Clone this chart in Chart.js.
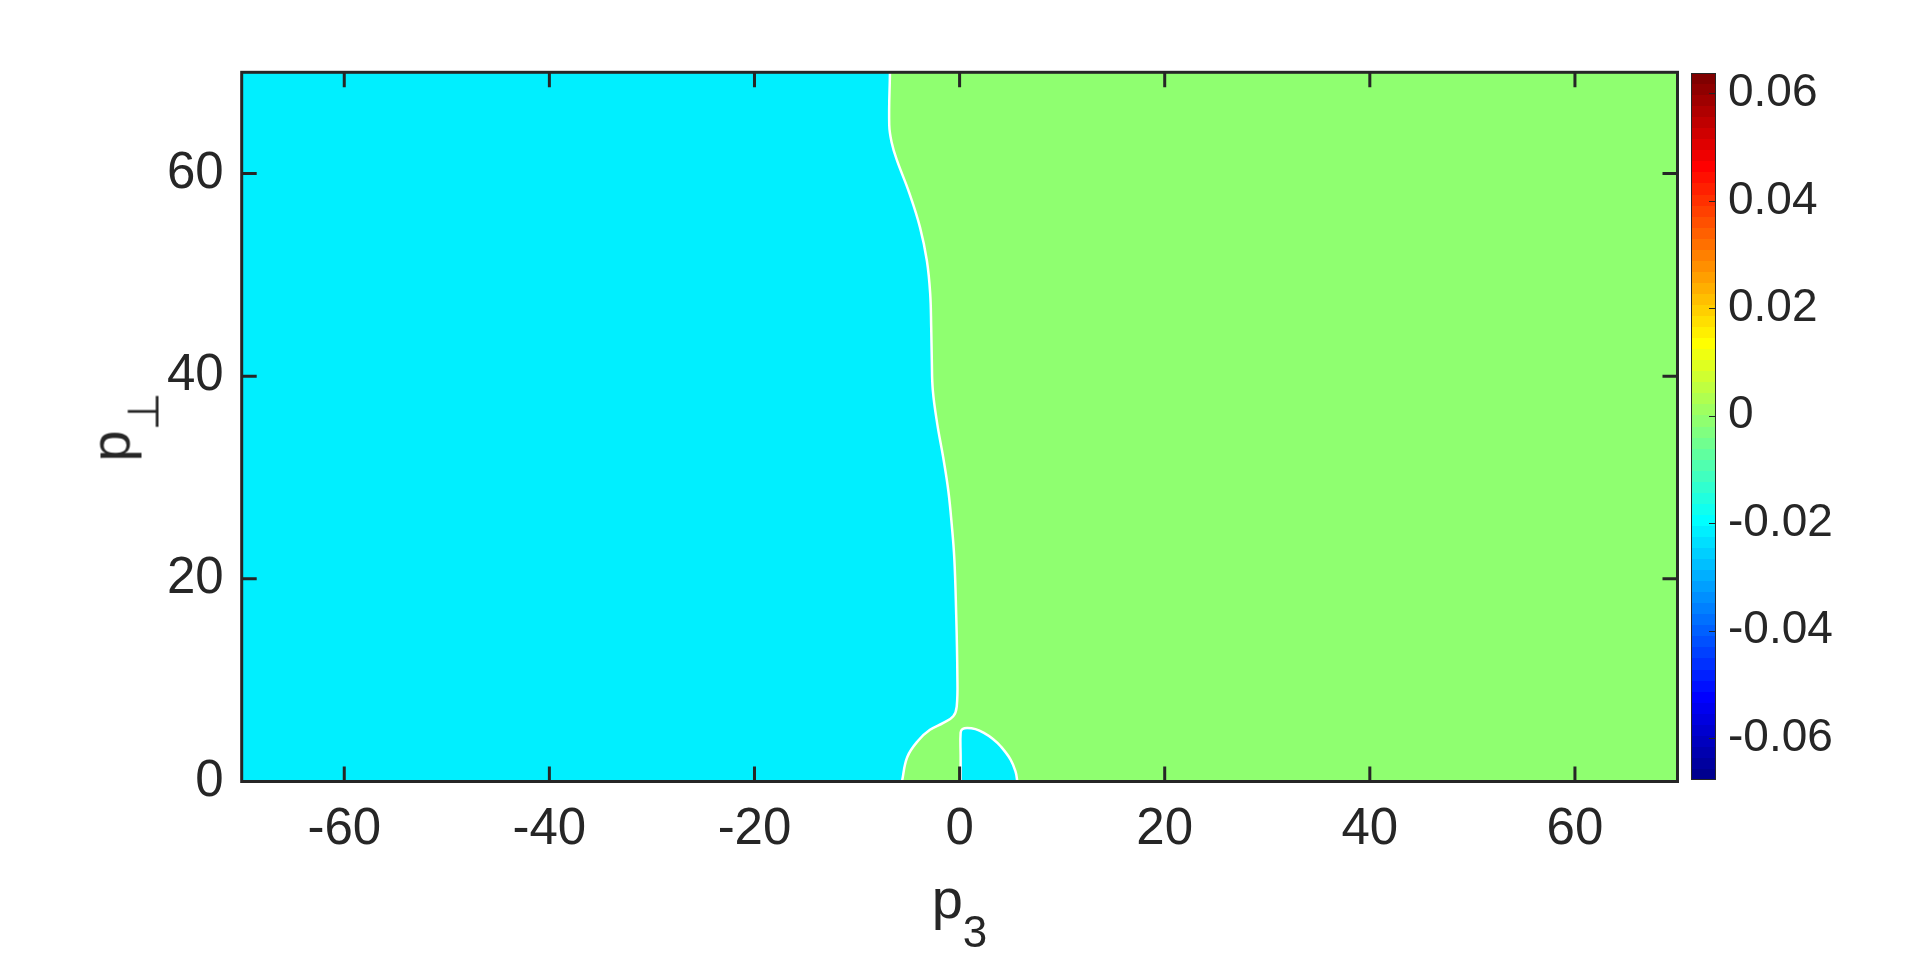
<!DOCTYPE html>
<html>
<head>
<meta charset="utf-8">
<script src="https://cdn.jsdelivr.net/npm/chart.js@4.4.0/dist/chart.umd.min.js"></script>
<style>
  html, body { margin: 0; padding: 0; background: #fff; }
  body { width: 1920px; height: 962px; position: relative; overflow: hidden;
         font-family: "Liberation Sans", Arial, sans-serif; color: #262626; }
  canvas { position: absolute; top: 0; }
  #main { left: 0; }
  #cbar { left: 1600px; }
  .axis-title { position: absolute; font-size: 56px; line-height: 1; white-space: nowrap;
                transform: translate(-50%, -50%); }
  .axis-title sub { font-size: 44px; line-height: 0; vertical-align: -29px; }
  #xtitle { left: 959.5px; top: 901px; }
  #ytitle { left: 112.6px; top: 427px; transform: translate(-50%, -50%) rotate(-90deg); }
</style>
</head>
<body>
<canvas id="main" width="1920" height="962"></canvas>
<canvas id="cbar" width="320" height="962"></canvas>
<div id="xtitle" class="axis-title">p<sub>3</sub></div>
<div id="ytitle" class="axis-title">p<sub>⊥</sub></div>
<script>
// axes
const p3Range = [-70, 70];
const perpRange = [0, 70];
const p3Ticks = [-60, -40, -20, 0, 20, 40, 60];
const perpTicks = [0, 20, 40, 60];

// colour axis
const cbarRange = [-0.0678, 0.0638];
const cbarTicks = [-0.06, -0.04, -0.02, 0, 0.02, 0.04, 0.06];
const cbarTickLabels = ['-0.06', '-0.04', '-0.02', '0', '0.02', '0.04', '0.06'];

// field value on each side of the contour
const leftValue = -0.021;
const rightValue = 0.0;

// main contour, read from top to bottom
const edgeP3 = [-6.79, -6.86, -6.63, -6.14, -4.91, -3.86, -3.19, -2.87, -2.77, -2.71, -2.61, -2.18,
  -1.60, -1.10, -0.77, -0.52, -0.35, -0.22, -0.28, -0.62, -1.59, -2.89, -4.03, -5.10, -5.62];
const edgePerp = [70, 64.8, 63.1, 61.4, 58.1, 54.7, 51.4, 48.2, 44.9, 41.6, 38.6, 35.3,
  32.0, 28.7, 25.4, 22.1, 17.2, 10.6, 7.4, 6.44, 5.79, 5.10, 4.05, 2.42, 0];

// small lobe next to the origin
const lobeP3 = [0.10, 0.10, 0.10, 0.29, 0.75, 1.55, 2.37, 3.25, 4.00, 4.97, 5.45, 5.63];
const lobePerp = [0, 2.5, 4.83, 5.18, 5.29, 5.17, 4.80, 4.20, 3.48, 2.17, 1.0, 0];

// MATLAB jet colormap
function jet(m) {
  const n = Math.ceil(m / 4);
  const u = [];
  for (let i = 1; i <= n; i++) u.push(i / n);
  for (let i = 1; i < n; i++) u.push(1);
  for (let i = n; i >= 1; i--) u.push(i / n);
  const g0 = Math.ceil(n / 2) - (m % 4 === 1 ? 1 : 0);
  const cmap = Array.from({ length: m }, () => [0, 0, 0]);
  u.forEach((val, k) => {
    const g = g0 + k, r = g + n, b = g - n;
    if (g >= 0 && g < m) cmap[g][1] = val;
    if (r >= 0 && r < m) cmap[r][0] = val;
    if (b >= 0 && b < m) cmap[b][2] = val;
  });
  return cmap.map(c => `rgb(${Math.round(c[0] * 255)},${Math.round(c[1] * 255)},${Math.round(c[2] * 255)})`);
}
const cmap = jet(64);
function colorOf(v) {
  const t = (v - cbarRange[0]) / (cbarRange[1] - cbarRange[0]);
  return cmap[Math.max(0, Math.min(cmap.length - 1, Math.floor(t * cmap.length)))];
}

const pts = (xs, ys) => xs.map((x, i) => ({ x, y: ys[i] }));
const [xMin, xMax] = p3Range;
const [yMin, yMax] = perpRange;
const pad = 10;

const edgePts = pts(edgeP3, edgePerp);
const lobePts = pts(lobeP3, lobePerp);
const edgeEnd = edgePts[edgePts.length - 1];
const lobeEnd = lobePts[lobePts.length - 1];

const wholeRegion = [
  { x: xMin - pad, y: yMin - pad }, { x: xMax + pad, y: yMin - pad },
  { x: xMax + pad, y: yMax + pad }, { x: xMin - pad, y: yMax + pad }
];
const leftRegion = [
  { x: xMin - pad, y: yMin - pad }, { x: xMin - pad, y: yMax + pad }, { x: edgeP3[0], y: yMax + pad },
  ...edgePts, { x: edgeEnd.x, y: yMin - pad }
];
const lobeRegion = [{ x: lobeP3[0], y: yMin - 5 }, ...lobePts, { x: lobeEnd.x, y: yMin - 5 }];

const ink = '#262626';

const frame = {
  id: 'frame',
  afterDraw(chart) {
    const { ctx, chartArea: a, scales: { x, y } } = chart;
    ctx.save();
    ctx.strokeStyle = ink;
    ctx.lineWidth = 3;
    ctx.beginPath();
    p3Ticks.forEach(v => {
      const px = x.getPixelForValue(v);
      ctx.moveTo(px, a.bottom); ctx.lineTo(px, a.bottom - 15);
      ctx.moveTo(px, a.top); ctx.lineTo(px, a.top + 15);
    });
    perpTicks.forEach(v => {
      const py = y.getPixelForValue(v);
      ctx.moveTo(a.left, py); ctx.lineTo(a.left + 15, py);
      ctx.moveTo(a.right, py); ctx.lineTo(a.right - 15, py);
    });
    ctx.stroke();
    ctx.strokeRect(a.left, a.top, a.width, a.height);
    ctx.restore();
  }
};

const region = (data, color, order, tension) => ({
  data, order, tension, showLine: true, fill: 'shape',
  backgroundColor: color, borderWidth: 0, pointRadius: 0
});
const contour = (data, order) => ({
  data, order, tension: 0.4, showLine: true, fill: false,
  borderColor: '#ffffff', borderWidth: 2.5, pointRadius: 0
});

new Chart(document.getElementById('main'), {
  type: 'scatter',
  data: {
    datasets: [
      contour(lobePts, 0),
      contour(edgePts, 1),
      region(lobeRegion, colorOf(leftValue), 2, 0.4),
      region(leftRegion, colorOf(leftValue), 3, 0.4),
      region(wholeRegion, colorOf(rightValue), 4, 0)
    ]
  },
  options: {
    responsive: false,
    animation: false,
    devicePixelRatio: 1,
    layout: { padding: { left: 0, top: 72.3, right: 242.5, bottom: 0 } },
    plugins: { legend: { display: false }, tooltip: { enabled: false } },
    scales: {
      x: {
        type: 'linear', min: xMin, max: xMax,
        grid: { display: false, drawTicks: false }, border: { display: false },
        afterBuildTicks: s => { s.ticks = p3Ticks.map(v => ({ value: v })); },
        afterFit: s => { s.height = 180.5; },
        ticks: { color: ink, padding: 18, font: { family: '"Liberation Sans", Arial', size: 51 },
                 callback: v => String(v) }
      },
      y: {
        type: 'linear', min: yMin, max: yMax,
        grid: { display: false, drawTicks: false }, border: { display: false },
        afterBuildTicks: s => { s.ticks = perpTicks.map(v => ({ value: v })); },
        afterFit: s => { s.width = 241.7; },
        ticks: { color: ink, padding: 18, font: { family: '"Liberation Sans", Arial', size: 51 },
                 callback: v => String(v) }
      }
    }
  },
  plugins: [frame]
});

// colour bar
const cbarFrame = {
  id: 'cbarFrame',
  afterDraw(chart) {
    const { ctx, chartArea: a, scales: { y } } = chart;
    ctx.save();
    ctx.strokeStyle = ink;
    ctx.lineWidth = 1;
    ctx.beginPath();
    cbarTicks.forEach(v => {
      const py = Math.round(y.getPixelForValue(v)) + 0.5;
      ctx.moveTo(a.right, py); ctx.lineTo(a.right - 7, py);
    });
    ctx.stroke();
    ctx.strokeRect(a.left + 0.5, a.top + 0.5, a.width - 1, a.height - 1);
    ctx.restore();
  }
};

new Chart(document.getElementById('cbar'), {
  type: 'bar',
  data: {
    labels: [''],
    datasets: [{
      data: [[cbarRange[0], cbarRange[1]]],
      barPercentage: 1, categoryPercentage: 1, borderWidth: 0,
      backgroundColor: ctx => {
        const chart = ctx.chart;
        if (!chart.chartArea) return null;
        const y = chart.scales.y;
        const g = chart.ctx.createLinearGradient(0, y.getPixelForValue(cbarRange[0]), 0, y.getPixelForValue(cbarRange[1]));
        cmap.forEach((c, i) => {
          g.addColorStop(i / cmap.length, c);
          g.addColorStop((i + 1) / cmap.length, c);
        });
        return g;
      }
    }]
  },
  options: {
    responsive: false,
    animation: false,
    devicePixelRatio: 1,
    layout: { padding: { left: 91, top: 73, right: 0, bottom: 182 } },
    plugins: { legend: { display: false }, tooltip: { enabled: false } },
    scales: {
      x: { display: false },
      y: {
        position: 'right', min: cbarRange[0], max: cbarRange[1],
        grid: { display: false, drawTicks: false }, border: { display: false },
        afterBuildTicks: s => { s.ticks = cbarTicks.map(v => ({ value: v })); },
        afterFit: s => { s.width = 204; },
        ticks: { color: ink, padding: 12, font: { family: '"Liberation Sans", Arial', size: 46 },
                 callback: (v, i) => cbarTickLabels[i] }
      }
    }
  },
  plugins: [cbarFrame]
});
</script>
</body>
</html>
